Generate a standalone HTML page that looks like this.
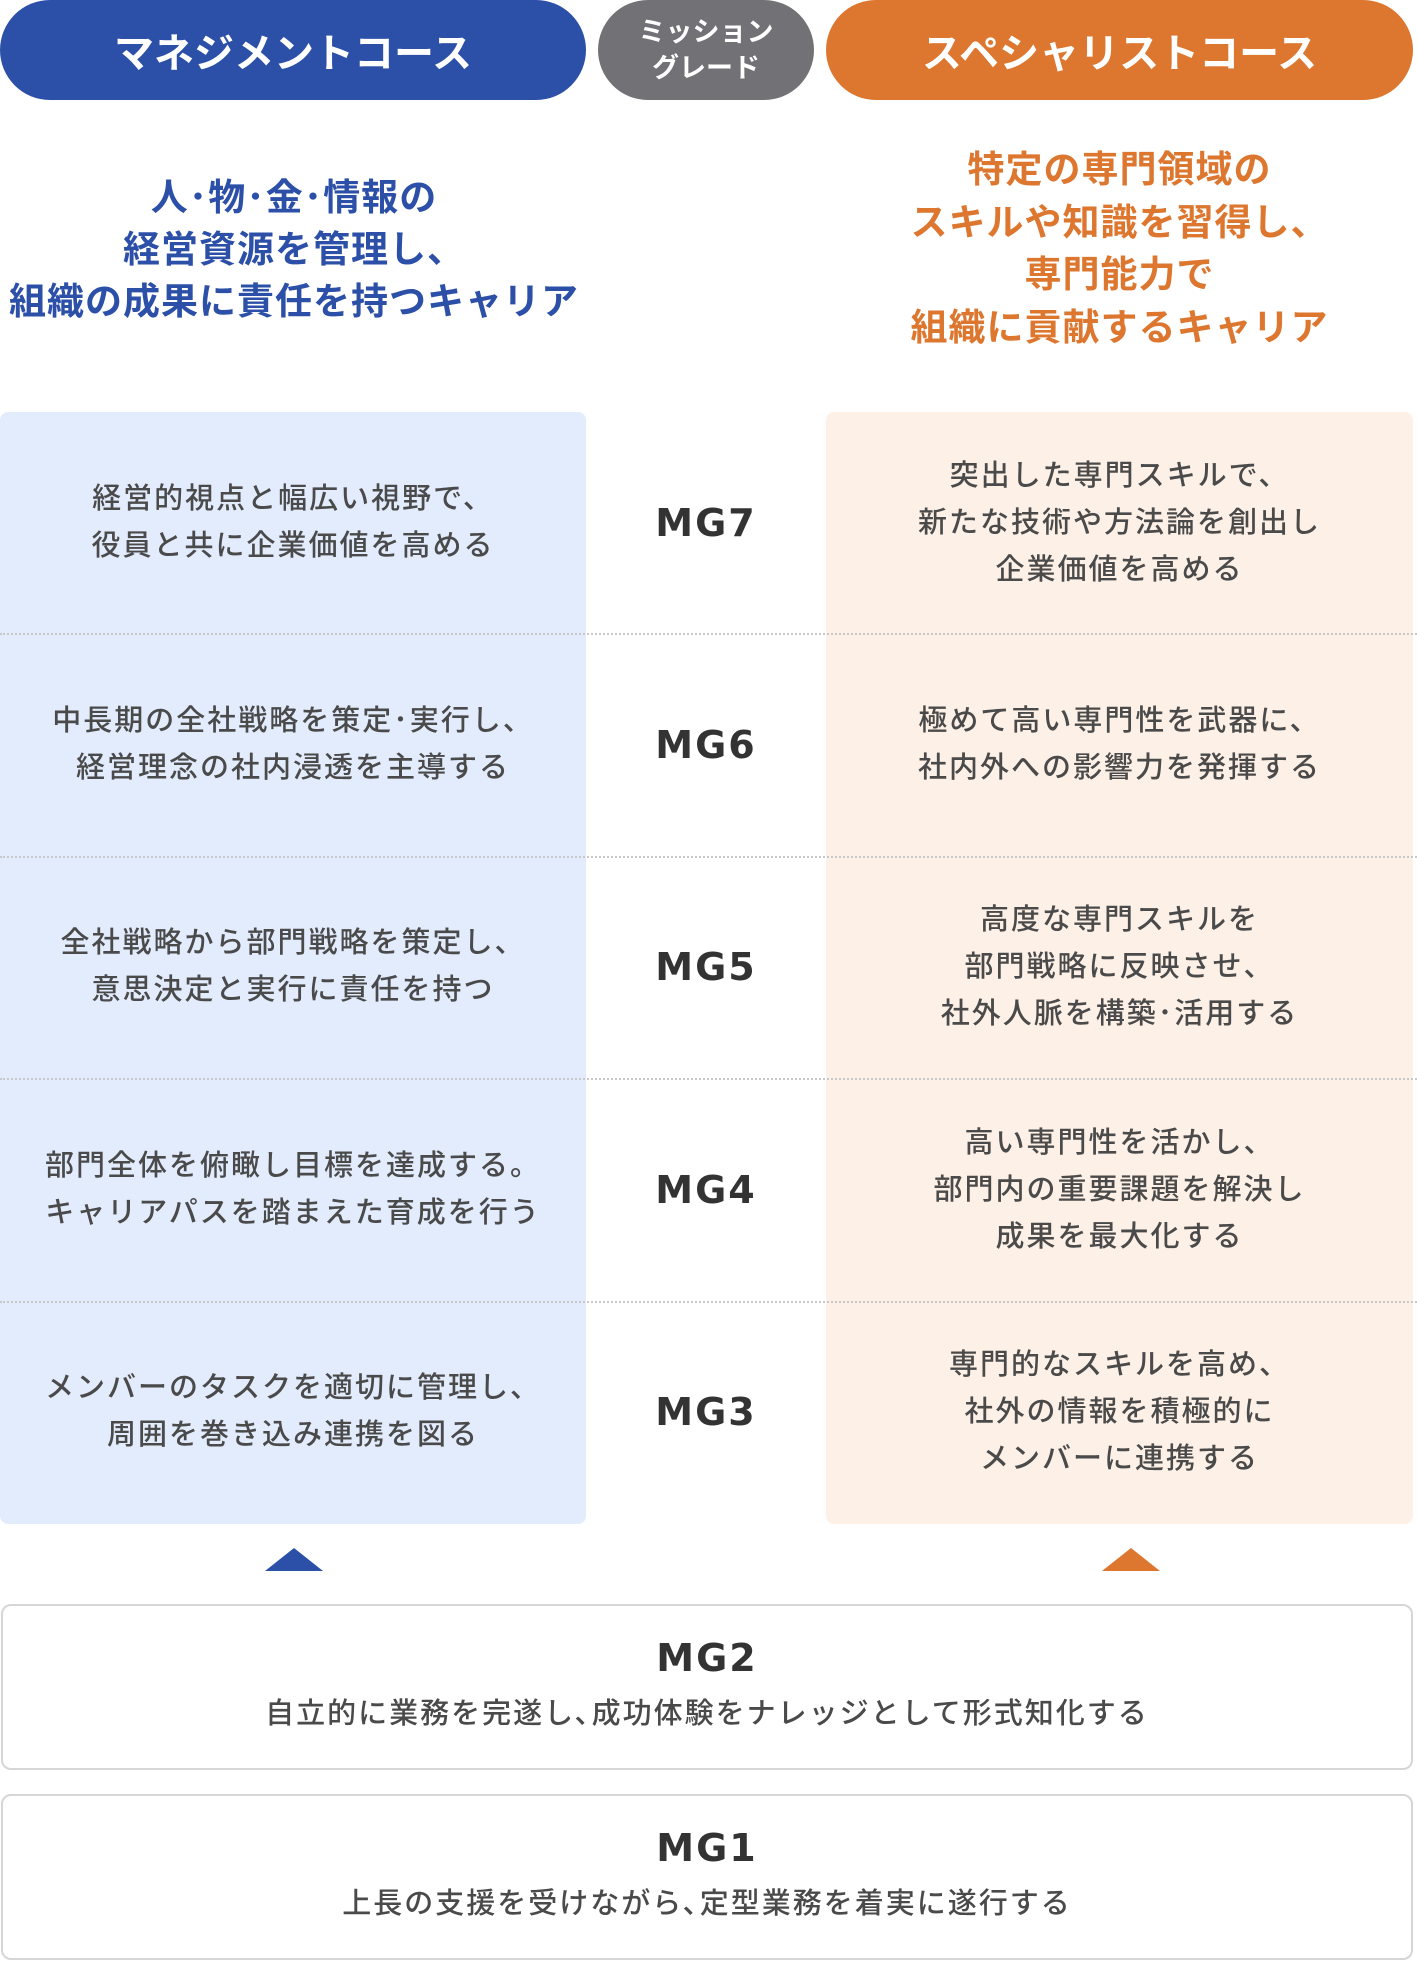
<!DOCTYPE html>
<html><head><meta charset="utf-8"><style>
*{margin:0;padding:0;box-sizing:border-box}
body{width:1417px;height:1964px;background:#fff;position:relative;font-family:"Liberation Sans","Noto Sans CJK JP",sans-serif;overflow:hidden}
.a{position:absolute}
.pill{top:0;height:100px;border-radius:50px;color:#fff;font-weight:bold;display:flex;align-items:center;justify-content:center;text-align:center}
.t{position:absolute;left:0;right:0;text-align:center}
.panel{top:412px;height:1112px;border-radius:8px}
.row{position:absolute;left:0;right:0;height:222px;display:flex;align-items:center;justify-content:center;text-align:center;color:#4a4a4a;font-size:29px;font-weight:500;line-height:47px;letter-spacing:2px}
.mg{position:absolute;left:586px;width:240px;height:222px;display:flex;align-items:center;justify-content:center;font-size:38px;font-weight:bold;color:#333;font-family:"DejaVu Sans","Noto Sans CJK JP",sans-serif;letter-spacing:2px}
.dl{position:absolute;left:0;width:1417px;border-top:2px dotted #c8c8c8}
.box{left:1px;width:1412px;border:2px solid #d6d6d6;border-radius:10px;background:#fff}
</style></head><body>
<div class="a pill" style="left:0;width:586px;background:#2c4fa8;font-size:40px">マネジメントコース</div>
<div class="a pill" style="left:598px;width:216px;background:#727276;font-size:27px;line-height:36px">ミッション<br>グレード</div>
<div class="a pill" style="left:826px;width:587px;background:#dd772f;font-size:40px">スペシャリストコース</div>

<div class="a" style="left:0;width:588px;top:172px;text-align:center;color:#2c4fa8;font-weight:bold;font-size:37px;line-height:52px;letter-spacing:1px">人･物･金･情報の<br>経営資源を管理し、<br>組織の成果に責任を持つキャリア</div>
<div class="a" style="left:826px;width:587px;top:144px;text-align:center;color:#dd772f;font-weight:bold;font-size:37px;line-height:52.5px;letter-spacing:1px">特定の専門領域の<br>スキルや知識を習得し、<br>専門能力で<br>組織に貢献するキャリア</div>

<div class="a panel" style="left:0;width:586px;background:#e3ecfd"></div>
<div class="a panel" style="left:826px;width:587px;background:#fdf0e7"></div>
<div class="dl" style="top:633px"></div>
<div class="dl" style="top:856px"></div>
<div class="dl" style="top:1078px"></div>
<div class="dl" style="top:1301px"></div>

<div class="a" style="left:0;width:586px;top:412px;height:1112px">
<div class="row" style="top:0">経営的視点と幅広い視野で、<br>役員と共に企業価値を高める</div>
<div class="row" style="top:222px">中長期の全社戦略を策定･実行し、<br>経営理念の社内浸透を主導する</div>
<div class="row" style="top:444px">全社戦略から部門戦略を策定し、<br>意思決定と実行に責任を持つ</div>
<div class="row" style="top:667px">部門全体を俯瞰し目標を達成する。<br>キャリアパスを踏まえた育成を行う</div>
<div class="row" style="top:889px">メンバーのタスクを適切に管理し、<br>周囲を巻き込み連携を図る</div>
</div>
<div class="a" style="left:0;top:412px;width:1417px;height:1112px">
<div class="mg" style="top:0">MG7</div>
<div class="mg" style="top:222px">MG6</div>
<div class="mg" style="top:444px">MG5</div>
<div class="mg" style="top:667px">MG4</div>
<div class="mg" style="top:889px">MG3</div>
</div>
<div class="a" style="left:826px;width:587px;top:412px;height:1112px">
<div class="row" style="top:0">突出した専門スキルで、<br>新たな技術や方法論を創出し<br>企業価値を高める</div>
<div class="row" style="top:222px">極めて高い専門性を武器に、<br>社内外への影響力を発揮する</div>
<div class="row" style="top:444px">高度な専門スキルを<br>部門戦略に反映させ、<br>社外人脈を構築･活用する</div>
<div class="row" style="top:667px">高い専門性を活かし、<br>部門内の重要課題を解決し<br>成果を最大化する</div>
<div class="row" style="top:889px">専門的なスキルを高め、<br>社外の情報を積極的に<br>メンバーに連携する</div>
</div>

<svg class="a" style="left:0;top:0" width="1417" height="1964">
<polygon points="294,1548 265,1571 323,1571" fill="#2c4fa8"/>
<polygon points="1131,1548 1102,1571 1160,1571" fill="#dd772f"/>
</svg>

<div class="a box" style="top:1604px;height:166px">
<div class="t" style="top:30px;font-size:38px;font-weight:bold;color:#333;font-family:'DejaVu Sans',sans-serif;letter-spacing:2px">MG2</div>
<div class="t" style="top:84px;font-size:29px;font-weight:500;color:#4a4a4a;letter-spacing:2px">自立的に業務を完遂し､成功体験をナレッジとして形式知化する</div>
</div>
<div class="a box" style="top:1794px;height:166px">
<div class="t" style="top:30px;font-size:38px;font-weight:bold;color:#333;font-family:'DejaVu Sans',sans-serif;letter-spacing:2px">MG1</div>
<div class="t" style="top:84px;font-size:29px;font-weight:500;color:#4a4a4a;letter-spacing:2px">上長の支援を受けながら､定型業務を着実に遂行する</div>
</div>
</body></html>
